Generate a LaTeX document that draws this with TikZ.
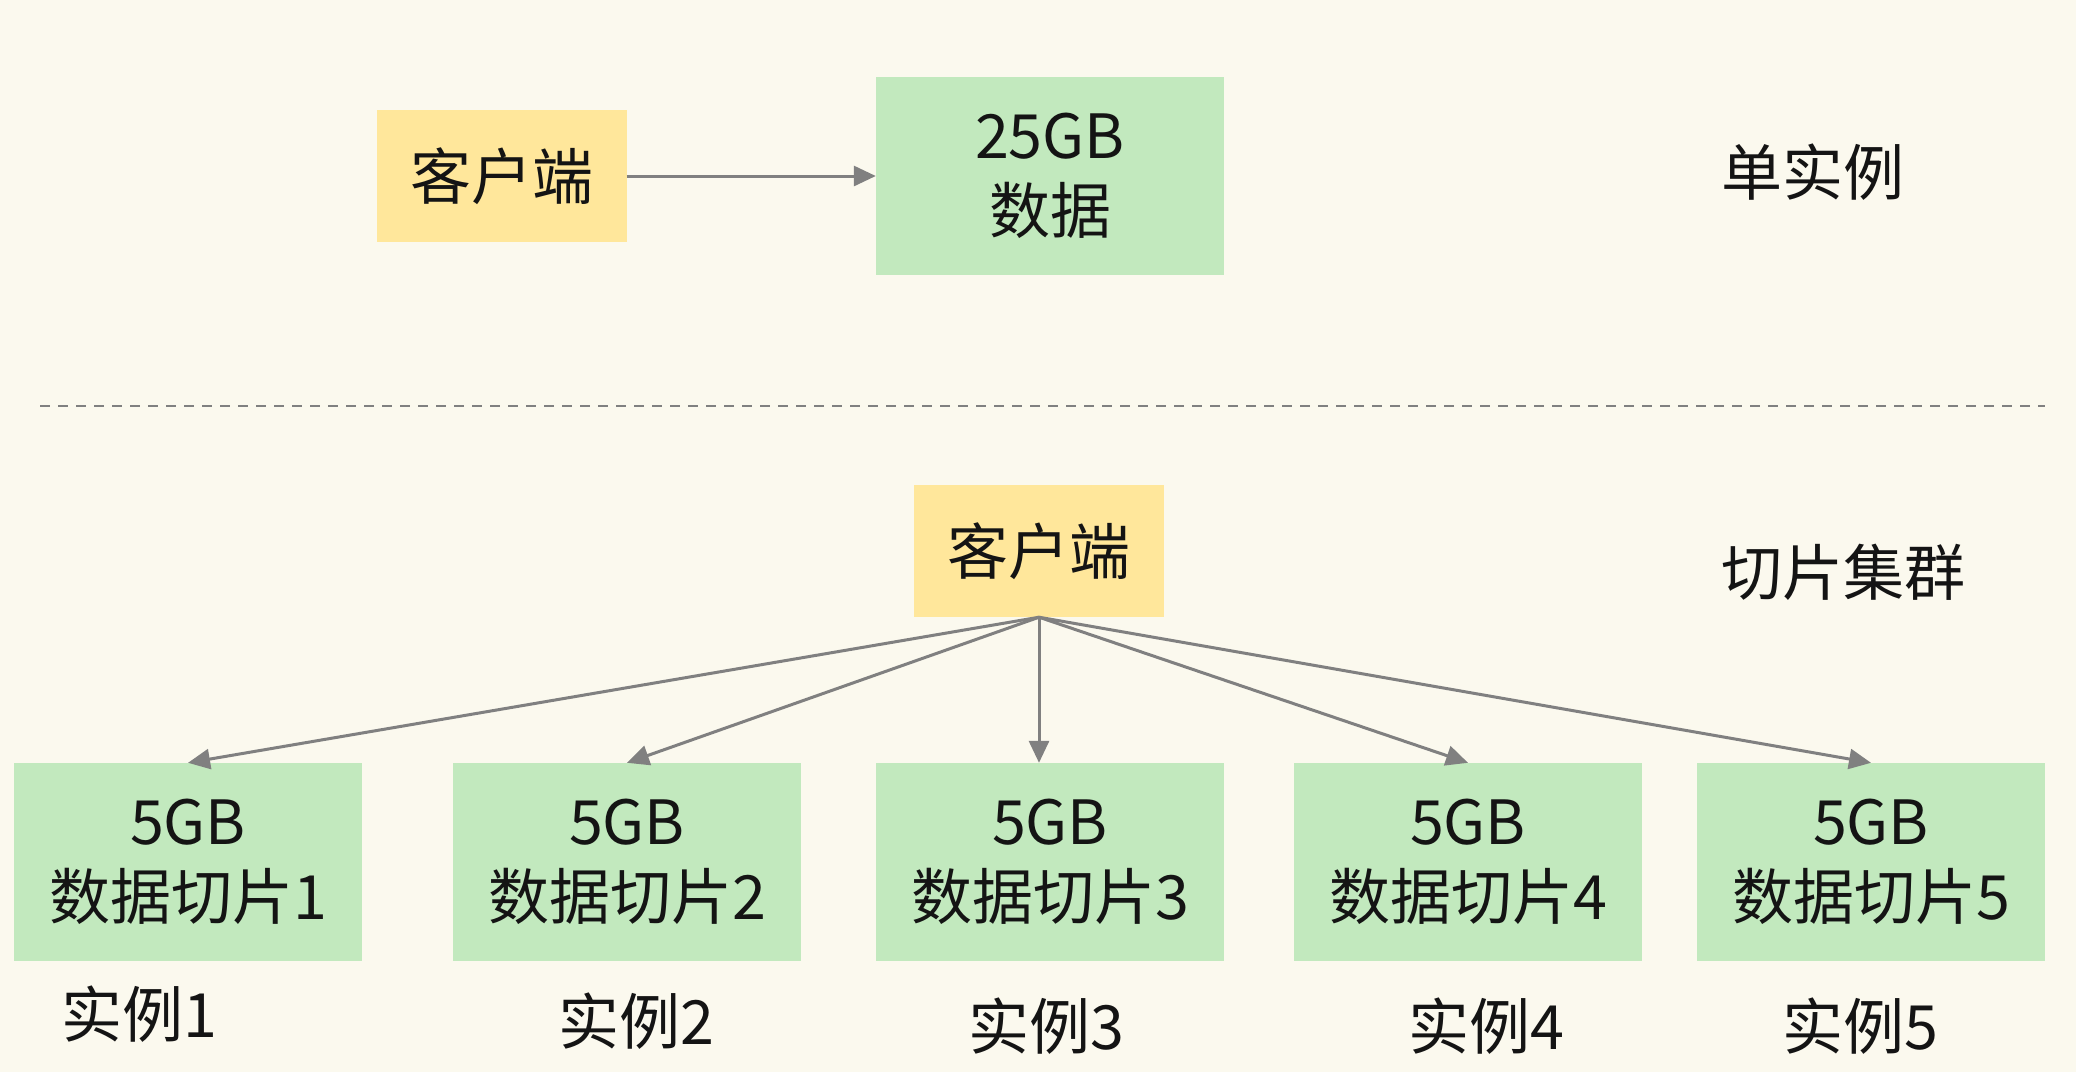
\documentclass[tikz,border=0pt]{standalone}
\usepackage{fontspec}
\setmainfont{Noto Sans CJK SC}
\usetikzlibrary{arrows.meta}
\definecolor{bgc}{RGB}{251,249,238}
\definecolor{ylw}{RGB}{255,231,155}
\definecolor{grn}{RGB}{194,233,190}
\definecolor{arr}{RGB}{128,128,128}
\definecolor{txt}{RGB}{20,20,20}
\tikzset{
  big/.style={font=\fontsize{61}{75}\selectfont, text=txt},
  client/.style={big, fill=ylw, minimum width=250pt, minimum height=132pt, inner sep=0pt},
  databox/.style={big, fill=grn, minimum width=348pt, minimum height=198pt, inner sep=0pt, align=center},
  lbl/.style={big, inner sep=0pt},
  conn/.style={draw=arr, line width=3pt, -{Triangle[length=22pt,width=20pt]}},
}
\begin{document}
\begin{tikzpicture}[x=1pt,y=-1pt]
\fill[bgc] (0,0) rectangle (2076,1072);
\useasboundingbox (0,0) rectangle (2076,1072);
% top
\node[client] (c1) at (501.5,176) {客户端};
\node[databox] (d) at (1050,176) {25GB\\数据};
\node[lbl, anchor=west] (l1) at (1721,172) {单实例};
\draw[conn] (c1.east) -- (d.west);
% divider
\coordinate (dl) at (40,406);
\coordinate (dr) at (2045,406);
\draw[arr, line width=2.5pt, dash pattern=on 10pt off 8pt] (dl) -- (dr);
% bottom
\node[client] (c2) at (1039,551) {客户端};
\node[lbl, anchor=west] (l2) at (1721,572) {切片集群};
\node[databox] (b1) at (188,862) {5GB\\数据切片1};
\node[databox] (b2) at (627,862) {5GB\\数据切片2};
\node[databox] (b3) at (1050,862) {5GB\\数据切片3};
\node[databox] (b4) at (1468,862) {5GB\\数据切片4};
\node[databox] (b5) at (1871,862) {5GB\\数据切片5};
\node[lbl] (i1) at (139,1014) {实例1};
\node[lbl] (i2) at (636,1021) {实例2};
\node[lbl] (i3) at (1046,1026) {实例3};
\node[lbl] (i4) at (1486,1026) {实例4};
\node[lbl] (i5) at (1860,1026) {实例5};
\draw[conn] (c2.south) -- (b1.north);
\draw[conn] (c2.south) -- (b2.north);
\draw[conn] (c2.south) -- (c2.south |- b3.north);
\draw[conn] (c2.south) -- (b4.north);
\draw[conn] (c2.south) -- (b5.north);
\end{tikzpicture}
\end{document}
